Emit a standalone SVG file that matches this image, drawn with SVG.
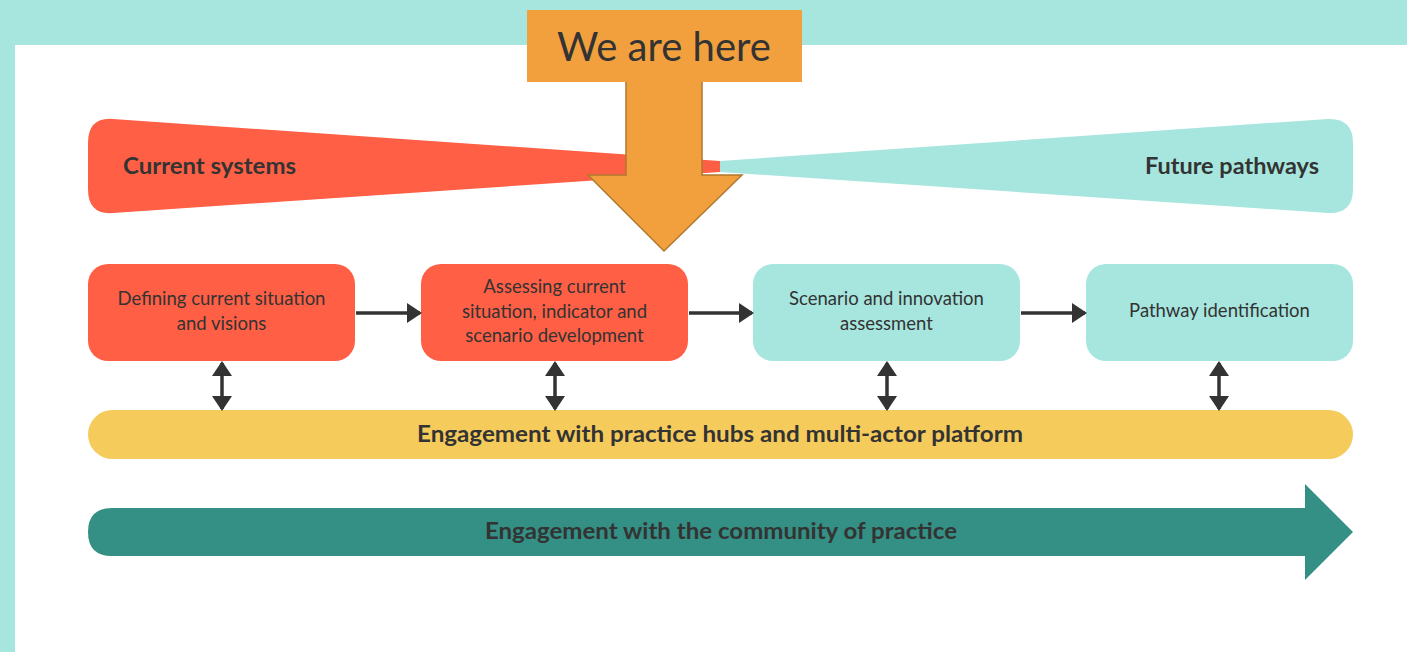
<svg xmlns="http://www.w3.org/2000/svg" width="1407" height="652" viewBox="0 0 1407 652">
<defs>
<style>
.t{font-family:Lato,"Open Sans","Liberation Sans",sans-serif;fill:#333333}
.node{font-size:18.5px;text-anchor:middle}
.bold{font-weight:bold}
.conn{stroke:#333333;stroke-width:3.5;fill:none}
</style>
<marker id="ah" markerWidth="16" markerHeight="22" refX="13" refY="11" orient="auto-start-reverse" markerUnits="userSpaceOnUse">
<path d="M0,1 L15,11 L0,21 Z" fill="#333333"/>
</marker>
</defs>
<rect x="0" y="0" width="1407" height="652" fill="#A6E6DE"/>
<rect x="15" y="45" width="1392" height="607" fill="#FFFFFF"/>

<g id="future-pathways">
<path d="M720,161 L1328,119 Q1353,118 1353,143 L1353,189 Q1353,214 1328,213 L720,172 Z" fill="#A6E6DE"/>
<text class="t bold" x="1145" y="174" font-size="23" textLength="174" lengthAdjust="spacingAndGlyphs">Future pathways</text>
</g>
<g id="current-systems">
<path d="M720,161 L113,119 Q88,117 88,143 L88,189 Q88,215 113,213 L720,172 Z" fill="#FF5F45"/>
<text class="t bold" x="123" y="174" font-size="23" textLength="173" lengthAdjust="spacingAndGlyphs">Current systems</text>
</g>

<g id="we-are-here">
<path d="M626,80 L702,80 L702,175 L742,175 L664,251 L588,175 L626,175 Z" fill="#F29F3D" stroke="#B07A2E" stroke-width="1.5"/>
<rect x="527" y="10" width="275" height="72" fill="#F29F3D"/>
<text class="t" x="664" y="61" font-size="40" text-anchor="middle">We are here</text>
</g>

<g id="node1">
<rect x="88" y="264" width="267" height="97" rx="20" fill="#FF5F45"/>
<text class="t node" x="221.5" y="305">Defining current situation</text>
<text class="t node" x="221.5" y="330">and visions</text>
</g>
<g id="node2">
<rect x="421" y="264" width="267" height="97" rx="20" fill="#FF5F45"/>
<text class="t node" x="554.5" y="293">Assessing current</text>
<text class="t node" x="554.5" y="318">situation, indicator and</text>
<text class="t node" x="554.5" y="342">scenario development</text>
</g>
<g id="node3">
<rect x="753" y="264" width="267" height="97" rx="20" fill="#A6E6DE"/>
<text class="t node" x="886.5" y="305">Scenario and innovation</text>
<text class="t node" x="886.5" y="330">assessment</text>
</g>
<g id="node4">
<rect x="1086" y="264" width="267" height="97" rx="20" fill="#A6E6DE"/>
<text class="t node" x="1219.5" y="317">Pathway identification</text>
</g>

<g id="practice-hubs">
<rect x="88" y="410" width="1265" height="49" rx="24.5" fill="#F5CB5C"/>
<text class="t bold" x="720" y="442" font-size="23" text-anchor="middle" textLength="606" lengthAdjust="spacingAndGlyphs">Engagement with practice hubs and multi-actor platform</text>
</g>

<g id="community">
<path d="M112,508 L1305,508 L1305,484 L1353,532 L1305,580 L1305,556 L112,556 Q88,556 88,532 Q88,508 112,508 Z" fill="#348F84"/>
<text class="t bold" x="721" y="539" font-size="23" text-anchor="middle" textLength="472" lengthAdjust="spacingAndGlyphs">Engagement with the community of practice</text>
</g>

<g id="connectors">
<line class="conn" x1="356" y1="313" x2="420" y2="313" marker-end="url(#ah)"/>
<line class="conn" x1="689" y1="313" x2="752" y2="313" marker-end="url(#ah)"/>
<line class="conn" x1="1021" y1="313" x2="1085" y2="313" marker-end="url(#ah)"/>
<line class="conn" x1="222" y1="363" x2="222" y2="409" marker-start="url(#ah)" marker-end="url(#ah)"/>
<line class="conn" x1="555" y1="363" x2="555" y2="409" marker-start="url(#ah)" marker-end="url(#ah)"/>
<line class="conn" x1="887" y1="363" x2="887" y2="409" marker-start="url(#ah)" marker-end="url(#ah)"/>
<line class="conn" x1="1219" y1="363" x2="1219" y2="409" marker-start="url(#ah)" marker-end="url(#ah)"/>
</g>
</svg>
